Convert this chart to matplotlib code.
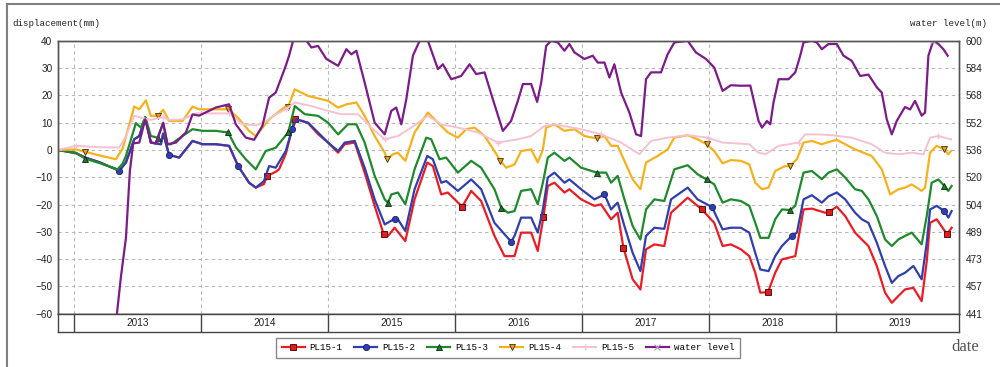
import numpy as np
import matplotlib.pyplot as plt
from matplotlib.lines import Line2D

# dates as decimal years, displacement in mm
pl1_t = [2012.874, 2013.016, 2013.089, 2013.200, 2013.356, 2013.409, 2013.474, 2013.514, 2013.561, 2013.605,
         2013.684, 2013.702, 2013.749, 2013.828, 2013.933, 2014.012, 2014.116, 2014.221, 2014.292, 2014.378,
         2014.431, 2014.495, 2014.522, 2014.588, 2014.614, 2014.667, 2014.738, 2014.843, 2014.921, 2015.000,
         2015.079, 2015.131, 2015.210, 2015.288, 2015.367, 2015.438, 2015.472, 2015.524, 2015.608, 2015.681,
         2015.781, 2015.825, 2015.891, 2015.943, 2016.056, 2016.127, 2016.205, 2016.310, 2016.389, 2016.468,
         2016.520, 2016.599, 2016.651, 2016.696, 2016.730, 2016.782, 2016.861, 2016.900, 2016.992, 2017.097,
         2017.149, 2017.228, 2017.280, 2017.325, 2017.398, 2017.459, 2017.503, 2017.569, 2017.647, 2017.700,
         2017.831, 2017.943, 2018.040, 2018.106, 2018.171, 2018.250, 2018.316, 2018.363, 2018.403, 2018.463,
         2018.520, 2018.573, 2018.678, 2018.743, 2018.809, 2018.914, 2018.940, 2019.005, 2019.071, 2019.149,
         2019.202, 2019.254, 2019.320, 2019.385, 2019.438, 2019.490, 2019.542, 2019.608, 2019.673, 2019.713,
         2019.739, 2019.791, 2019.873, 2019.909]
pl1_v = [0, -1.2, -2.8, -4.5, -7.6, -4.6, 3.9, 5.1, 11.9, 2.7,
         2.1, 6.0, -1.8, -2.8, 3.3, 2.1, 2.1, 1.5, -5.9, -12.0,
         -13.8, -12.5, -9.5, -8.0, -7.1, -1.5, 11.5, 9.8, 5.8, 2.7,
         -1.0, 2.1, 2.7, -8.3, -20.5, -30.9, -31.5, -28.5, -33.4, -18.1,
         -4.6, -5.9, -16.3, -15.6, -20.8, -15.0, -18.7, -31.5, -38.9, -38.9,
         -30.3, -30.3, -37.0, -24.4, -13.2, -12.0, -15.6, -14.4, -18.1, -20.5,
         -19.9, -25.4, -23.0, -35.8, -47.4, -51.1, -36.4, -34.6, -35.2, -23.0,
         -17.5, -21.8, -26.7, -35.2, -34.6, -36.4, -38.9, -45.0, -52.3, -52.1,
         -45.0, -40.1, -38.9, -21.8, -21.5, -23.0, -22.8, -20.8, -24.2, -30.3,
         -32.8, -35.2, -42.5, -52.3, -56.0, -53.5, -51.1, -50.5, -55.4, -40.8,
         -26.7, -25.4, -30.9, -28.5]

pl2_t = [2012.874, 2013.016, 2013.089, 2013.200, 2013.356, 2013.409, 2013.474, 2013.514, 2013.561, 2013.605,
         2013.684, 2013.702, 2013.749, 2013.828, 2013.933, 2014.012, 2014.116, 2014.221, 2014.292, 2014.378,
         2014.431, 2014.495, 2014.536, 2014.588, 2014.667, 2014.717, 2014.751, 2014.843, 2014.921, 2015.000,
         2015.079, 2015.131, 2015.210, 2015.288, 2015.367, 2015.446, 2015.524, 2015.550, 2015.608, 2015.681,
         2015.781, 2015.825, 2015.891, 2015.930, 2016.022, 2016.127, 2016.205, 2016.310, 2016.441, 2016.468,
         2016.520, 2016.599, 2016.651, 2016.691, 2016.730, 2016.782, 2016.861, 2016.900, 2016.992, 2017.097,
         2017.176, 2017.228, 2017.280, 2017.333, 2017.398, 2017.459, 2017.503, 2017.569, 2017.647, 2017.700,
         2017.831, 2017.909, 2018.022, 2018.106, 2018.171, 2018.250, 2018.316, 2018.363, 2018.403, 2018.468,
         2018.520, 2018.573, 2018.651, 2018.691, 2018.743, 2018.809, 2018.887, 2018.940, 2019.005, 2019.071,
         2019.149, 2019.202, 2019.254, 2019.320, 2019.385, 2019.438, 2019.490, 2019.542, 2019.608, 2019.673,
         2019.713, 2019.739, 2019.791, 2019.852, 2019.883, 2019.909]
pl2_v = [0, -1.2, -2.8, -4.5, -7.6, -4.6, 3.9, 5.1, 11.9, 2.7,
         2.1, 6.0, -1.8, -2.8, 3.3, 2.1, 2.1, 1.5, -5.9, -12.0,
         -13.8, -11.4, -5.9, -6.5, -0.4, 7.6, 11.2, 10.0, 6.4, 2.7,
         -0.4, 2.7, 3.3, -6.5, -18.1, -27.3, -25.2, -25.4, -29.7, -14.4,
         -2.2, -3.4, -12.0, -11.4, -15.0, -10.8, -14.4, -26.7, -33.6, -31.5,
         -24.8, -24.8, -30.3, -21.8, -10.1, -8.3, -12.0, -10.8, -14.4, -18.1,
         -16.3, -21.8, -19.3, -27.9, -37.7, -44.4, -31.5, -28.5, -28.9, -18.1,
         -13.8, -18.1, -20.9, -29.1, -28.5, -28.5, -30.3, -37.7, -43.8, -44.4,
         -38.9, -35.2, -31.5, -30.3, -18.1, -16.6, -19.3, -17.0, -15.6, -18.1,
         -23.0, -25.4, -26.7, -34.0, -42.5, -48.7, -46.2, -45.0, -42.5, -47.4,
         -34.0, -21.8, -20.5, -22.4, -24.8, -22.4]

pl3_t = [2012.874, 2013.016, 2013.089, 2013.200, 2013.343, 2013.383, 2013.409, 2013.487, 2013.527, 2013.561,
         2013.605, 2013.658, 2013.702, 2013.736, 2013.763, 2013.854, 2013.933, 2014.012, 2014.116, 2014.213,
         2014.274, 2014.352, 2014.431, 2014.509, 2014.588, 2014.686, 2014.738, 2014.817, 2014.921, 2015.000,
         2015.079, 2015.157, 2015.223, 2015.288, 2015.367, 2015.446, 2015.472, 2015.498, 2015.550, 2015.608,
         2015.681, 2015.773, 2015.812, 2015.878, 2015.930, 2016.022, 2016.127, 2016.205, 2016.310, 2016.363,
         2016.415, 2016.468, 2016.520, 2016.599, 2016.651, 2016.691, 2016.730, 2016.782, 2016.861, 2016.900,
         2016.992, 2017.115, 2017.189, 2017.228, 2017.280, 2017.333, 2017.398, 2017.459, 2017.503, 2017.569,
         2017.647, 2017.726, 2017.831, 2017.909, 2017.980, 2018.040, 2018.106, 2018.171, 2018.250, 2018.316,
         2018.363, 2018.403, 2018.468, 2018.520, 2018.573, 2018.638, 2018.678, 2018.743, 2018.809, 2018.887,
         2018.940, 2019.005, 2019.071, 2019.149, 2019.202, 2019.254, 2019.320, 2019.385, 2019.438, 2019.490,
         2019.542, 2019.595, 2019.673, 2019.713, 2019.752, 2019.805, 2019.852, 2019.883, 2019.909]
pl3_v = [0, -1.0, -3.2, -4.8, -7.1, -5.0, -2.2, 9.8, 8.2, 12.1,
         5.1, 4.5, 9.8, 2.1, 2.1, 5.1, 7.6, 7.0, 7.0, 6.4,
         1.0, -3.4, -7.1, -0.4, 0.8, 6.4, 16.1, 13.1, 12.5, 10.0,
         5.7, 9.4, 9.4, 2.7, -9.5, -18.1, -19.3, -16.3, -15.6, -19.9,
         -7.1, 4.5, 3.9, -3.4, -2.8, -8.3, -4.0, -6.5, -14.4, -21.1,
         -23.0, -22.4, -15.0, -14.4, -19.9, -12.0, -2.8, -1.0, -4.0, -2.8,
         -6.5, -8.3, -8.3, -12.0, -9.5, -18.1, -27.9, -32.8, -21.8, -18.1,
         -18.7, -7.1, -5.6, -8.9, -10.8, -12.6, -19.3, -18.1, -18.7, -20.5,
         -26.7, -32.2, -32.2, -25.4, -21.8, -22.0, -20.5, -8.3, -7.7, -10.7,
         -8.3, -7.1, -10.1, -14.4, -15.0, -18.1, -24.2, -32.8, -35.2, -32.8,
         -31.5, -30.3, -34.6, -24.2, -12.0, -10.8, -13.2, -15.0, -13.2]

pl4_t = [2012.874, 2013.016, 2013.089, 2013.200, 2013.330, 2013.383, 2013.474, 2013.514, 2013.566, 2013.605,
         2013.658, 2013.702, 2013.749, 2013.854, 2013.933, 2013.985, 2014.116, 2014.213, 2014.287, 2014.378,
         2014.431, 2014.536, 2014.667, 2014.686, 2014.738, 2014.843, 2015.000, 2015.079, 2015.144, 2015.223,
         2015.288, 2015.367, 2015.446, 2015.466, 2015.511, 2015.550, 2015.608, 2015.681, 2015.786, 2015.865,
         2015.943, 2016.022, 2016.088, 2016.153, 2016.232, 2016.310, 2016.357, 2016.402, 2016.468, 2016.520,
         2016.599, 2016.651, 2016.691, 2016.717, 2016.782, 2016.861, 2016.940, 2017.018, 2017.115, 2017.176,
         2017.228, 2017.280, 2017.333, 2017.398, 2017.459, 2017.503, 2017.595, 2017.673, 2017.726, 2017.831,
         2017.909, 2017.980, 2018.040, 2018.106, 2018.171, 2018.250, 2018.316, 2018.363, 2018.416, 2018.468,
         2018.520, 2018.599, 2018.633, 2018.691, 2018.743, 2018.809, 2018.887, 2018.940, 2019.005, 2019.071,
         2019.149, 2019.280, 2019.359, 2019.425, 2019.490, 2019.542, 2019.595, 2019.673, 2019.700, 2019.739,
         2019.791, 2019.852, 2019.883, 2019.904]
pl4_v = [0, 0.2, -0.7, -2.0, -3.4, 0.5, 15.9, 14.9, 18.2, 12.5,
         12.5, 14.7, 10.6, 10.6, 15.9, 14.9, 14.9, 14.9, 12.0, 7.0,
         5.1, 11.2, 16.0, 15.9, 22.2, 19.8, 18.0, 15.5, 16.7, 17.4,
         12.5, 5.1, -1.0, -3.4, -1.6, -1.0, -4.0, 6.4, 13.7, 10.0,
         6.4, 4.5, 7.6, 8.2, 5.1, -0.4, -4.0, -6.5, -5.3, -0.4,
         0.2, -4.6, 0.2, 8.2, 9.4, 7.0, 7.6, 5.1, 4.2, 5.1,
         1.5, 1.5, -4.0, -10.8, -14.4, -4.6, -2.2, 0.2, 4.5, 5.4,
         3.9, 2.1, -0.4, -4.9, -3.7, -4.0, -5.3, -12.0, -14.4, -13.8,
         -7.7, -5.9, -6.0, -3.4, 2.7, 3.3, 2.1, 2.9, 3.7, 2.1,
         0.2, -2.2, -7.1, -16.3, -14.4, -13.8, -12.6, -15.0, -13.8, -1.0,
         1.5, 0.2, -1.6, -0.4]

pl5_t = [2012.874, 2013.016, 2013.200, 2013.356, 2013.409, 2013.474, 2013.600, 2013.702, 2013.749, 2013.854,
         2013.959, 2014.221, 2014.326, 2014.431, 2014.509, 2014.588, 2014.667, 2014.738, 2014.869, 2015.000,
         2015.105, 2015.236, 2015.341, 2015.446, 2015.550, 2015.655, 2015.786, 2015.891, 2016.022, 2016.179,
         2016.336, 2016.494, 2016.599, 2016.704, 2016.782, 2016.992, 2017.149, 2017.307, 2017.451, 2017.542,
         2017.673, 2017.831, 2017.988, 2018.106, 2018.316, 2018.389, 2018.442, 2018.547, 2018.704, 2018.756,
         2018.861, 2018.966, 2019.123, 2019.280, 2019.385, 2019.490, 2019.595, 2019.687, 2019.739, 2019.805,
         2019.904]
pl5_v = [0, 1.5, 1.0, 0.9, 5.0, 12.5, 11.0, 12.0, 11.0, 11.2,
         13.4, 13.4, 9.4, 9.0, 10.5, 13.0, 14.9, 17.4, 16.1, 14.3,
         13.1, 13.1, 8.2, 3.9, 5.1, 8.2, 12.5, 9.4, 8.2, 6.4,
         2.7, 3.9, 5.1, 8.8, 9.4, 7.6, 5.7, 2.7, -1.6, 3.3,
         4.5, 5.4, 4.5, 2.7, 2.1, -1.0, -1.6, 1.5, 2.7, 5.7,
         5.7, 5.4, 4.5, 2.1, -1.0, -1.6, -1.0, -1.6, 4.5, 5.1,
         3.9]

# reservoir water level (m)
wl_t = [2013.338, 2013.369, 2013.409, 2013.440, 2013.466, 2013.514, 2013.561, 2013.605, 2013.645, 2013.702,
        2013.736, 2013.802, 2013.881, 2013.933, 2013.985, 2014.116, 2014.221, 2014.274, 2014.352, 2014.418,
        2014.483, 2014.536, 2014.588, 2014.667, 2014.693, 2014.725, 2014.830, 2014.869, 2014.921, 2014.987,
        2015.079, 2015.144, 2015.183, 2015.223, 2015.288, 2015.367, 2015.446, 2015.498, 2015.537, 2015.577,
        2015.616, 2015.668, 2015.721, 2015.786, 2015.865, 2015.904, 2015.970, 2016.048, 2016.114, 2016.166,
        2016.232, 2016.297, 2016.376, 2016.441, 2016.494, 2016.534, 2016.599, 2016.646, 2016.678, 2016.717,
        2016.756, 2016.809, 2016.861, 2016.900, 2016.940, 2017.018, 2017.084, 2017.123, 2017.176, 2017.215,
        2017.254, 2017.307, 2017.372, 2017.425, 2017.464, 2017.503, 2017.542, 2017.621, 2017.673, 2017.726,
        2017.831, 2017.896, 2017.975, 2018.040, 2018.106, 2018.171, 2018.250, 2018.324, 2018.389, 2018.416,
        2018.455, 2018.481, 2018.507, 2018.547, 2018.625, 2018.678, 2018.717, 2018.743, 2018.809, 2018.848,
        2018.887, 2018.940, 2019.005, 2019.058, 2019.123, 2019.189, 2019.254, 2019.320, 2019.359, 2019.398,
        2019.438, 2019.477, 2019.516, 2019.542, 2019.582, 2019.621, 2019.673, 2019.700, 2019.726, 2019.765,
        2019.805, 2019.844, 2019.878]
wl_v = [441, 462.3, 485.3, 524.3, 540.2, 540.7, 554.3, 540.7, 540.2, 552.3,
        539.7, 540.7, 546.6, 557.1, 556.4, 561.1, 563.0, 551.3, 543.6, 542.3,
        550.4, 566.9, 569.8, 585.4, 591.3, 600, 600, 596.1, 597.0, 589.4,
        585.4, 595.1, 592.1, 594.2, 575.7, 552.3, 545.5, 559.2, 561.1, 551.3,
        566.0, 591.3, 600, 600, 583.5, 586.3, 577.6, 579.5, 586.3, 580.6,
        581.6, 566.0, 547.5, 553.3, 565.0, 574.8, 574.8, 564.4, 575.7, 597.0,
        600, 599.0, 594.2, 598.1, 593.2, 589.4, 591.3, 587.3, 587.3, 578.6,
        586.3, 569.8, 558.2, 545.5, 544.5, 577.6, 581.6, 581.6, 592.1, 599.0,
        600, 593.2, 589.4, 584.4, 570.8, 574.1, 573.8, 573.9, 553.3, 549.4,
        553.3, 551.3, 564.1, 577.6, 577.6, 581.6, 591.3, 599.0, 600, 599.0,
        595.1, 598.1, 598.1, 591.3, 588.3, 579.5, 580.3, 572.9, 569.8, 554.3,
        545.5, 553.3, 558.2, 561.4, 560.0, 565.0, 556.4, 558.2, 591.3, 600,
        598.1, 595.1, 591.3]

# dates where the series carry a marker symbol
pl1_marks = [2014.522, 2014.738, 2015.438, 2016.056, 2016.696, 2017.325, 2017.943, 2018.463, 2018.940, 2019.873]
pl2_marks = [2013.356, 2013.749, 2014.292, 2014.717, 2015.524, 2016.441, 2017.176, 2018.022, 2018.651, 2019.852]
pl3_marks = [2013.089, 2013.658, 2014.213, 2014.686, 2015.472, 2016.363, 2017.115, 2017.980, 2018.638, 2019.852]
pl4_marks = [2013.089, 2013.658, 2014.213, 2014.686, 2015.466, 2016.357, 2017.115, 2017.980, 2018.633, 2019.852]
wl_marks = [2019.765]

years = [2013, 2014, 2015, 2016, 2017, 2018, 2019]
wl_ticklabels = ['441', '457', '473', '489', '504', '520', '536', '552', '568', '584', '600']

plt.rcParams['font.family'] = ['Liberation Sans', 'DejaVu Sans']


def idx(t, dates):
    t = np.asarray(t)
    return [int(np.argmin(np.abs(t - d))) for d in dates]


fig = plt.figure(figsize=(10, 3.67), dpi=100)
ax = fig.add_axes([0.058, 0.1452, 0.901, 0.7437])

ax.plot(pl1_t, pl1_v, color='#ec1c24', lw=1.6, marker='s', ms=4.5, mfc='#e41a1c', mec='#3a0000', mew=0.6,
        markevery=idx(pl1_t, pl1_marks), label='PL15-1')
ax.plot(pl2_t, pl2_v, color='#2f3fae', lw=1.6, marker='o', ms=4.5, mfc='#2f3fae', mec='#1a2270', mew=0.6,
        markevery=idx(pl2_t, pl2_marks), label='PL15-2')
ax.plot(pl3_t, pl3_v, color='#1f8a2c', lw=1.6, marker='^', ms=4.5, mfc='#1f7a2c', mec='#0a2a0a', mew=0.6,
        markevery=idx(pl3_t, pl3_marks), label='PL15-3')
ax.plot(pl4_t, pl4_v, color='#f5b21c', lw=1.6, marker='v', ms=4.5, mfc='#e0a020', mec='#4a3000', mew=0.6,
        markevery=idx(pl4_t, pl4_marks), label='PL15-4')
ax.plot(pl5_t, pl5_v, color='#f6c1d1', lw=1.4, marker='+', ms=5, mec='#f6c1d1',
        markevery=idx(pl5_t, pl4_marks), label='PL15-5')

ax.set_xlim(2012.874, 2019.967)
ax.set_ylim(-60, 40)
ax.set_yticks(range(-60, 41, 10))
ax.set_xticks(years)
ax.set_xticklabels([])
ax.tick_params(axis='both', length=0, labelsize=7.2, pad=4, colors='#222')
ax.grid(True, color='#b8b8b8', linestyle=(0, (3, 3)), linewidth=0.8)
for s in ax.spines.values():
    s.set_color('#555')
    s.set_linewidth(1.0)

ax2 = ax.twinx()
ax2.plot(wl_t, wl_v, color='#7b1c89', lw=1.6, marker='x', ms=4, mec='#b9a0c0', mew=0.8,
         markevery=idx(wl_t, wl_marks), label='water level')
ax2.set_ylim(441, 600)
ax2.set_yticks(np.linspace(441, 600, 11))
ax2.set_yticklabels(wl_ticklabels)
ax2.tick_params(axis='y', length=0, labelsize=7.2, pad=5, colors='#222')
for s in ax2.spines.values():
    s.set_color('#555')
    s.set_linewidth(1.0)

# year band under the plot
band = fig.add_axes([0.058, 0.0962, 0.901, 0.049])
band.set_xlim(2012.874, 2019.967)
band.set_ylim(0, 1)
band.set_xticks([])
band.set_yticks([])
for y in years:
    band.axvline(y, color='#444', lw=1.0)
    band.text(y + 0.5, 0.5, str(y), ha='center', va='center', fontsize=7.2, color='#222')
for s in band.spines.values():
    s.set_color('#444')
    s.set_linewidth(1.0)

mono = {'family': 'Liberation Mono', 'size': 6.6}
fig.text(0.0127, 0.935, 'displacement(mm)', fontdict=mono, va='center', color='#222')
fig.text(0.910, 0.935, 'water level(m)', fontdict=mono, va='center', color='#222')
fig.text(0.951, 0.055, 'date', family='Liberation Serif', fontsize=12, color='#555', va='center')

handles = ax.get_lines() + ax2.get_lines()
fig.legend(handles, [h.get_label() for h in handles], loc='center', bbox_to_anchor=(0.508, 0.0518),
           ncol=6, frameon=True, fancybox=False, edgecolor='#888', framealpha=1,
           prop={'family': 'Liberation Mono', 'size': 6.6}, handlelength=2.5, handletextpad=0.55,
           columnspacing=1.3, borderpad=0.6)

# outer frame (left and top edges)
fig.add_artist(Line2D([0.007, 0.007], [0, 1 - 4 / 367], color='#808080', lw=1.5))
fig.add_artist(Line2D([0.007, 1.0], [1 - 4 / 367, 1 - 4 / 367], color='#808080', lw=1.5))

fig.savefig('out.png', dpi=100)
